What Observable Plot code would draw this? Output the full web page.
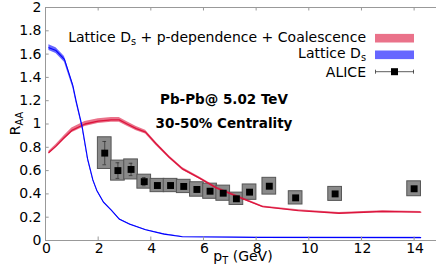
<!DOCTYPE html>
<html><head><meta charset="utf-8">
<script src="https://cdn.jsdelivr.net/npm/d3@7"></script>
<script src="https://cdn.jsdelivr.net/npm/@observablehq/plot@0.6"></script>
<style>body{margin:0;background:#fff;} svg{display:block}</style>
</head><body><div id="chart"></div>
<script>
// Lattice Ds + p-dependence + Coalescence (red)
const redX   = [0.13, 0.4, 0.7, 1.0, 1.5, 2.0, 2.5, 2.8, 3.1, 3.45, 3.8, 4.2, 4.7, 5.2, 5.85, 6.5, 7.5, 8.25, 9.6, 11.15, 12.8, 14.25];
const redY   = [0.755, 0.81, 0.88, 0.945, 1.0, 1.025, 1.035, 1.035, 1.0, 0.96, 0.93, 0.83, 0.715, 0.615, 0.535, 0.45, 0.358, 0.29, 0.257, 0.234, 0.249, 0.243];
const redErr = [0.012, 0.015, 0.018, 0.02, 0.021, 0.021, 0.021, 0.02, 0.02, 0.018, 0.016, 0.014, 0.012, 0.011, 0.01, 0.009, 0.008, 0.007, 0.006, 0.006, 0.006, 0.006];
// Lattice Ds (blue)
const blueX   = [0.13, 0.4, 0.72, 1.04, 1.16, 1.39, 1.6, 1.8, 1.95, 2.2, 2.5, 2.81, 3.2, 3.8, 4.5, 5.2, 8, 14.25];
const blueY   = [1.655, 1.63, 1.555, 1.33, 1.2, 0.98, 0.7, 0.52, 0.43, 0.33, 0.26, 0.182, 0.14, 0.092, 0.055, 0.032, 0.026, 0.025];
const blueErr = [0.025, 0.025, 0.025, 0.02, 0.018, 0.015, 0.012, 0.01, 0.008, 0.006, 0.005, 0.004, 0.004, 0.003, 0.003, 0.003, 0.003, 0.003];
// ALICE data
const aliceX    = [2.25, 2.75, 3.25, 3.75, 4.25, 4.75, 5.25, 5.75, 6.25, 6.75, 7.25, 7.75, 8.5, 9.5, 11, 14];
const aliceY    = [0.75, 0.60, 0.61, 0.505, 0.472, 0.472, 0.464, 0.438, 0.423, 0.406, 0.358, 0.415, 0.466, 0.366, 0.40, 0.444];
const aliceSys  = [0.136, 0.086, 0.086, 0.06, 0.057, 0.057, 0.057, 0.062, 0.065, 0.065, 0.053, 0.066, 0.072, 0.057, 0.06, 0.064];
const aliceStat = [0.1, 0.067, 0.053, 0.035, 0.02, 0.02, 0.02, 0.02, 0.02, 0.02, 0.02, 0.02, 0.02, 0.02, 0.02, 0.02];
// ticks
const xTicks = [0, 2, 4, 6, 8, 10, 12, 14];
const yTicks = [0, 0.2, 0.4, 0.6, 0.8, 1, 1.2, 1.4, 1.6, 1.8, 2];

const red = redX.map((x, i) => ({x, y: redY[i], e: redErr[i]}));
const blue = blueX.map((x, i) => ({x, y: blueY[i], e: blueErr[i]}));
const alice = aliceX.map((x, i) => ({x, y: aliceY[i], sys: aliceSys[i], stat: aliceStat[i]}));

const BW = 0.26, CAP = 0.07;
const axisColor = "#999";
const chart = Plot.plot({
  width: 436, height: 270,
  marginLeft: 45, marginRight: 0, marginTop: 7, marginBottom: 30,
  x: {domain: [0, 14.85]},
  y: {domain: [0, 2]},
  style: {fontFamily: "DejaVu Sans", fontSize: "14px", color: "black", background: "white"},
  marks: [
    Plot.rect(alice, {x1: d => d.x - BW, x2: d => d.x + BW, y1: d => d.y - d.sys, y2: d => d.y + d.sys,
      fill: "#8a8a8a", stroke: "#555", strokeWidth: 1}),
    Plot.areaY(red, {x: "x", y1: d => d.y - d.e, y2: d => d.y + d.e, fill: "#dc143c", fillOpacity: 0.6}),
    Plot.lineY(red, {x: "x", y: "y", stroke: "#dc143c", strokeWidth: 1.3}),
    Plot.areaY(blue, {x: "x", y1: d => d.y - d.e, y2: d => d.y + d.e, fill: "#0000ff", fillOpacity: 0.6}),
    Plot.lineY(blue, {x: "x", y: "y", stroke: "#0000ff", strokeWidth: 1.1}),
    Plot.ruleX(alice, {x: "x", y1: d => d.y - d.stat, y2: d => d.y + d.stat, stroke: "#333", strokeWidth: 0.8}),
    Plot.ruleY(alice, {y: d => d.y - d.stat, x1: d => d.x - CAP, x2: d => d.x + CAP, stroke: "#333", strokeWidth: 0.8}),
    Plot.ruleY(alice, {y: d => d.y + d.stat, x1: d => d.x - CAP, x2: d => d.x + CAP, stroke: "#333", strokeWidth: 0.8}),
    Plot.dot(alice, {x: "x", y: "y", symbol: "square", r: 3.9, fill: "black", stroke: "none"}),
    Plot.axisX({ticks: xTicks, tickSize: 0, tickPadding: 3, dx: 1, label: null, tickFormat: d => String(d)}),
    Plot.axisY({ticks: yTicks, tickSize: 0, tickPadding: 4, label: null, tickFormat: d => String(d)}),
    Plot.ruleX([0], {stroke: axisColor}),
    Plot.ruleY([0, 2], {stroke: axisColor}),
    Plot.ruleY(yTicks, {y: d => d, x1: 0, x2: 0.14, stroke: axisColor}),
    Plot.ruleX(xTicks, {x: d => d, y1: 0, y2: 0.03, stroke: axisColor}),
    Plot.ruleX(xTicks, {x: d => d, y1: 2, y2: 1.97, stroke: axisColor}),
    Plot.text(["Pb-Pb@ 5.02 TeV"], {frameAnchor: "top-left", dx: 178.5, dy: 96, textAnchor: "middle", lineAnchor: "bottom",
      fontWeight: "bold", fontSize: 13.5, fill: "black"}),
    Plot.text(["30-50% Centrality"], {frameAnchor: "top-left", dx: 178.5, dy: 120, textAnchor: "middle", lineAnchor: "bottom",
      fontWeight: "bold", fontSize: 13.5, fill: "black"})
  ]
});
document.getElementById("chart").appendChild(chart);

const svg = d3.select(chart);
const g = svg.append("g").attr("font-family", "DejaVu Sans").attr("font-size", 14).attr("fill", "black");
// axis labels
const xl = g.append("text").attr("x", 243).attr("y", 261).attr("text-anchor", "middle");
xl.append("tspan").text("p");
xl.append("tspan").attr("font-size", "70%").attr("dy", 3).text("T");
xl.append("tspan").attr("dy", -3).text(" (GeV)");
const yl = g.append("text").attr("transform", "translate(20,123.5) rotate(-90)").attr("text-anchor", "middle");
yl.append("tspan").text("R");
yl.append("tspan").attr("font-size", "70%").attr("dy", 3).text("AA");

// legend
const legendRows = [
  {parts: [["Lattice D", 0], ["s", 1], [" + p-dependence + Coalescence", 0]], base: 41.7, kind: "band", color: "#dc143c"},
  {parts: [["Lattice D", 0], ["s", 1]], base: 58.3, kind: "band", color: "#0000ff"},
  {parts: [["ALICE", 0]], base: 76.5, kind: "data"}
];
legendRows.forEach(r => {
  const t = g.append("text").attr("x", 366).attr("y", r.base).attr("text-anchor", "end");
  let shifted = false;
  r.parts.forEach(([s, sub]) => {
    const ts = t.append("tspan").text(s);
    if (sub) { ts.attr("font-size", "70%").attr("dy", 3); shifted = true; }
    else if (shifted) { ts.attr("dy", -3); shifted = false; }
  });
  if (r.kind === "band") {
    g.append("rect").attr("x", 375).attr("y", r.base - 7.8).attr("width", 39).attr("height", 8.6)
      .attr("fill", r.color).attr("fill-opacity", 0.6);
  } else {
    const y = r.base - 4.8;
    g.append("line").attr("x1", 375.5).attr("x2", 414).attr("y1", y).attr("y2", y).attr("stroke", "#333").attr("stroke-width", 0.8);
    g.append("line").attr("x1", 375.5).attr("x2", 375.5).attr("y1", y - 2).attr("y2", y + 2).attr("stroke", "#333").attr("stroke-width", 0.8);
    g.append("line").attr("x1", 413.5).attr("x2", 413.5).attr("y1", y - 2).attr("y2", y + 2).attr("stroke", "#333").attr("stroke-width", 0.8);
    g.append("rect").attr("x", 391).attr("y", y - 3.5).attr("width", 7).attr("height", 7).attr("fill", "black");
  }
});
</script></body></html>
